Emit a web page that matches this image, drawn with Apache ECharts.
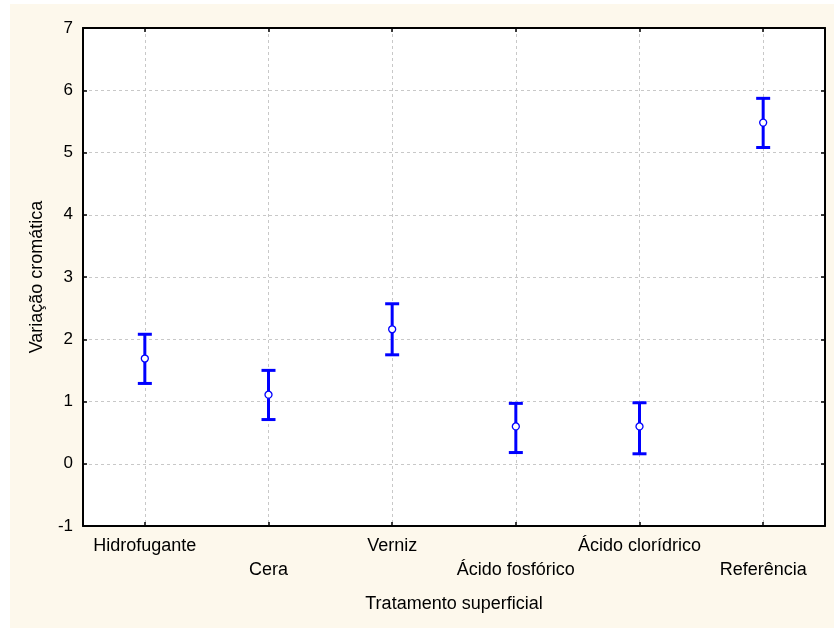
<!DOCTYPE html>
<html>
<head>
<meta charset="utf-8">
<script src="https://cdn.jsdelivr.net/npm/echarts@6/dist/echarts.min.js"></script>
<style>
html,body{margin:0;padding:0;background:#fff;}
#chart{width:834px;height:628px;}
</style>
</head>
<body>
<div id="chart"></div>
<script>
var categories = ['Hidrofugante', 'Cera', 'Verniz', 'Ácido fosfórico', 'Ácido clorídrico', 'Referência'];
var means = [1.69, 1.11, 2.16, 0.60, 0.60, 5.48];
var lower = [1.29, 0.71, 1.75, 0.18, 0.16, 5.08];
var upper = [2.08, 1.50, 2.57, 0.97, 0.98, 5.87];
var yTicks = [-1, 0, 1, 2, 3, 4, 5, 6, 7];

var FONT = 'Liberation Sans, Arial, sans-serif';
var BLUE = '#0000ff';

var errData = categories.map(function (c, i) { return [i, lower[i], upper[i]]; });
var meanData = categories.map(function (c, i) { return [i, means[i]]; });

var chart = echarts.init(document.getElementById('chart'), null, {renderer: 'canvas'});
chart.setOption({
  animation: false,
  backgroundColor: '#ffffff',
  graphic: [{
    type: 'rect', z: -10, silent: true,
    shape: {x: 10, y: 4, width: 824, height: 624},
    style: {fill: '#fdf8ec'}
  }],
  grid: {
    left: 83, top: 28, right: 9, bottom: 102,
    show: true, backgroundColor: '#ffffff', borderColor: '#000', borderWidth: 0
  },
  xAxis: [{
    type: 'category',
    data: categories,
    boundaryGap: true,
    name: 'Tratamento superficial',
    nameLocation: 'middle',
    nameGap: 69,
    nameTextStyle: {fontFamily: FONT, fontSize: 18, color: '#000'},
    axisLine: {onZero: false, lineStyle: {color: '#000', width: 2}},
    axisTick: {show: true, inside: true, alignWithLabel: true, length: 4, lineStyle: {color: '#000', width: 1.5}},
    axisLabel: {
      fontFamily: FONT, fontSize: 18, color: '#000', margin: 8, lineHeight: 24, interval: 0,
      formatter: function (v, i) { return i % 2 ? '\n' + v : v; }
    },
    splitLine: {show: true, alignWithLabel: true, lineStyle: {color: '#c8c8c8', type: [3, 3], width: 1}}
  }, {
    type: 'category',
    data: categories,
    position: 'top',
    boundaryGap: true,
    axisLine: {onZero: false, lineStyle: {color: '#000', width: 2}},
    axisTick: {show: true, inside: true, alignWithLabel: true, length: 4, lineStyle: {color: '#000', width: 1.5}},
    axisLabel: {show: false},
    splitLine: {show: false}
  }],
  yAxis: [{
    type: 'value',
    min: yTicks[0], max: yTicks[yTicks.length - 1], interval: 1,
    name: 'Variação cromática',
    nameLocation: 'middle',
    nameGap: 37,
    nameRotate: 90,
    nameTextStyle: {fontFamily: FONT, fontSize: 18, color: '#000'},
    axisLine: {show: true, onZero: false, lineStyle: {color: '#000', width: 2}},
    axisTick: {show: true, inside: true, length: 4, lineStyle: {color: '#000', width: 1.5}},
    axisLabel: {fontFamily: FONT, fontSize: 17, color: '#000', margin: 10},
    splitLine: {show: true, lineStyle: {color: '#c8c8c8', type: [3, 3], width: 1}}
  }, {
    type: 'value',
    position: 'right',
    min: yTicks[0], max: yTicks[yTicks.length - 1], interval: 1,
    axisLine: {show: true, onZero: false, lineStyle: {color: '#000', width: 2}},
    axisTick: {show: true, inside: true, length: 4, lineStyle: {color: '#000', width: 1.5}},
    axisLabel: {show: false},
    splitLine: {show: false}
  }],
  series: [{
    type: 'custom',
    data: errData,
    z: 5,
    renderItem: function (params, api) {
      var x = api.value(0);
      var lo = api.coord([x, api.value(1)]);
      var hi = api.coord([x, api.value(2)]);
      var hw = 7;
      var st = {stroke: BLUE, lineWidth: 3, fill: null};
      return {
        type: 'group',
        children: [
          {type: 'line', shape: {x1: lo[0], y1: lo[1], x2: hi[0], y2: hi[1]}, style: st},
          {type: 'line', shape: {x1: lo[0] - hw, y1: lo[1], x2: lo[0] + hw, y2: lo[1]}, style: st},
          {type: 'line', shape: {x1: hi[0] - hw, y1: hi[1], x2: hi[0] + hw, y2: hi[1]}, style: st}
        ]
      };
    }
  }, {
    type: 'scatter',
    data: meanData,
    z: 10,
    symbol: 'circle',
    symbolSize: 7,
    itemStyle: {color: '#ffffff', borderColor: BLUE, borderWidth: 1.3, opacity: 1}
  }]
});
</script>
</body>
</html>
